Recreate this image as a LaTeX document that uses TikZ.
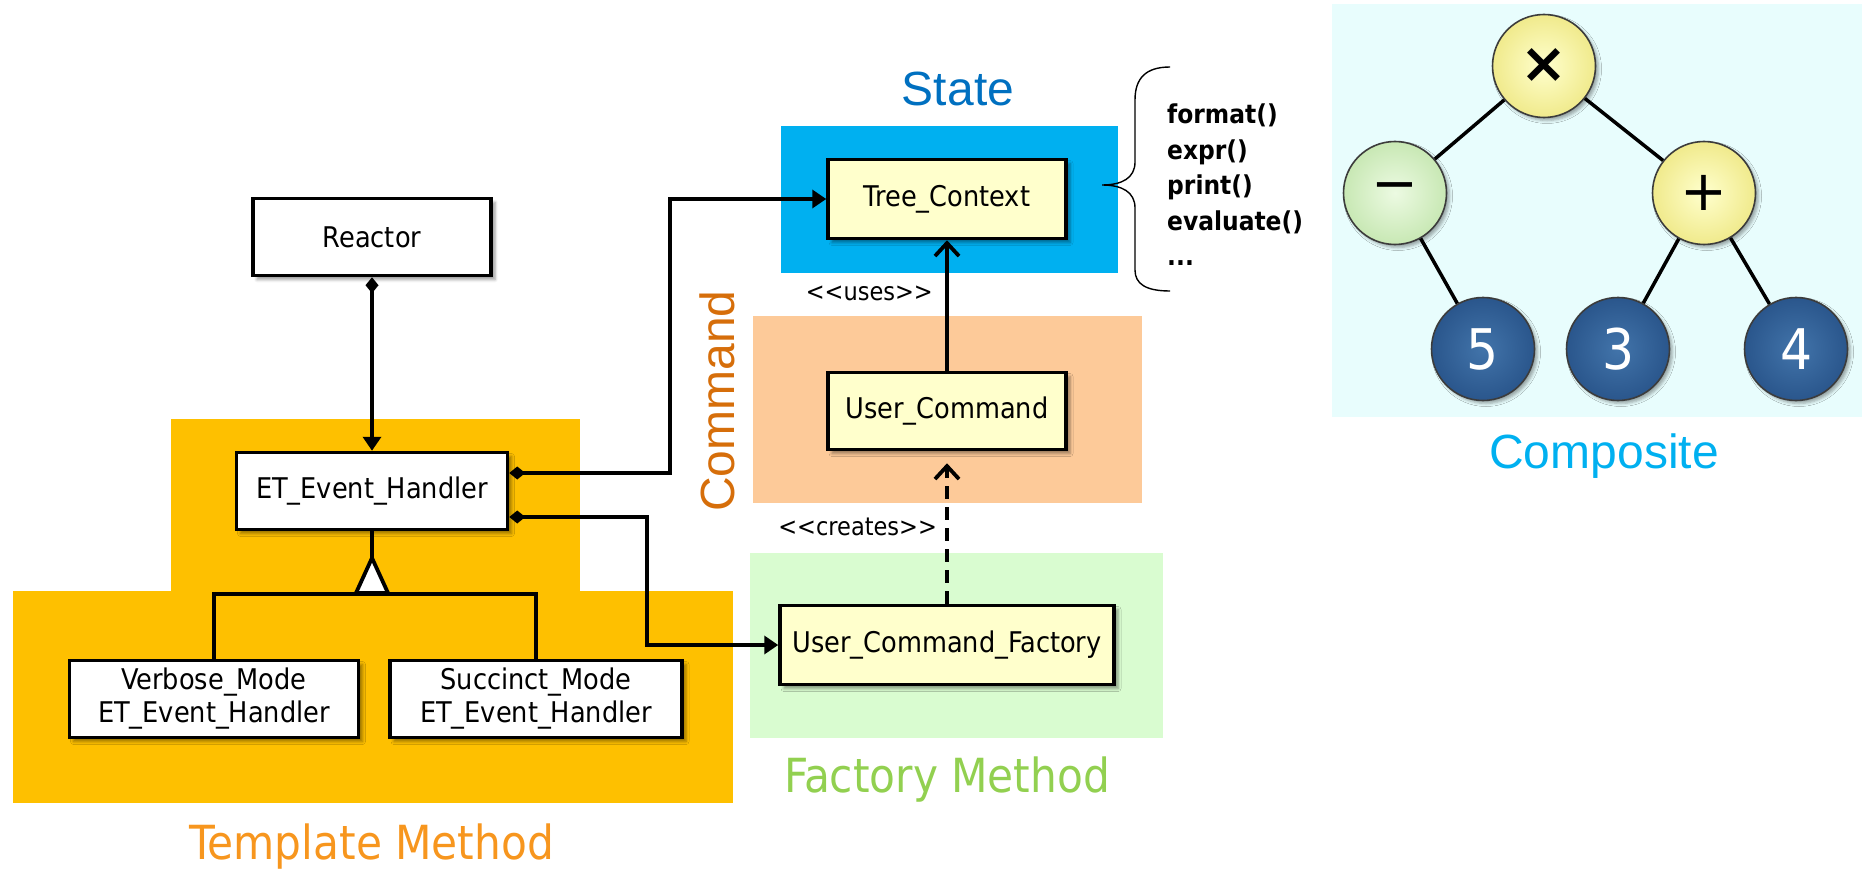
\documentclass[tikz,border=0pt]{standalone}
\usepackage{fontspec}
\setmainfont{DejaVu Sans Condensed}
\newfontfamily\arialfont{Liberation Sans}
\newfontfamily\signfont{DejaVu Sans}
\usepackage{xcolor}
\usepackage{tikz}
\usetikzlibrary{positioning}
\usetikzlibrary{calc,arrows.meta}
\usetikzlibrary{shadows.blur}

\definecolor{templatebg}{RGB}{254,192,0}
\definecolor{templatefg}{RGB}{247,150,30}
\definecolor{statebg}{RGB}{0,176,240}
\definecolor{statefg}{RGB}{0,112,192}
\definecolor{commandbg}{RGB}{253,202,153}
\definecolor{commandfg}{RGB}{214,110,10}
\definecolor{factorybg}{RGB}{217,252,208}
\definecolor{factoryfg}{RGB}{146,208,80}
\definecolor{compositebg}{RGB}{232,253,253}
\definecolor{compositefg}{RGB}{0,176,240}
\definecolor{classfill}{RGB}{255,255,204}

\begin{document}
\begin{tikzpicture}[x=1pt,y=-1pt,
  class/.style={draw, line width=3.5pt, fill=white, minimum height=77pt,
    inner sep=0pt, align=center, font=\fontsize{28.5}{33}\selectfont,
    blur shadow={shadow xshift=4pt, shadow yshift=-4pt, shadow blur radius=3pt, shadow opacity=40}},
  patternlabel/.style={inner sep=0pt, font=\fontsize{47}{52}\selectfont},
  arialabel/.style={inner sep=0pt, font=\arialfont\fontsize{48}{52}\selectfont},
  stereo/.style={inner sep=0pt, font=\fontsize{25}{28}\selectfont},
  link/.style={line width=3.8pt},
  owns/.style={link, {Diamond[length=16pt,width=13pt]}-{Triangle[length=14pt,width=18pt]}},
  depends/.style={link, -{Straight Barb[length=13pt,width=24pt]}},
  treenode/.style={circle, minimum size=103pt, draw={rgb,255:red,60;green,60;blue,60}, line width=1.6pt,
    shading=radial, inner sep=0pt,
    blur shadow={shadow xshift=3pt, shadow yshift=-3pt, shadow blur radius=3pt, shadow opacity=35}},
  opnode/.style={treenode, inner color={rgb,255:red,255;green,255;blue,205}, outer color={rgb,255:red,240;green,234;blue,140},
    font=\signfont\fontsize{56}{56}\selectfont},
  leafnode/.style={treenode, inner color={rgb,255:red,66;green,116;blue,170}, outer color={rgb,255:red,42;green,86;blue,140},
    text=white, font=\fontsize{56}{56}\selectfont},
  treeedge/.style={line width=3.5pt}
]

\useasboundingbox (0,0) rectangle (1862,869);

% Pattern areas
\fill[templatebg] (171,419) rectangle (580,591);
\fill[templatebg] (13,591) rectangle (733,803);
\fill[statebg] (781,126) rectangle (1118,273);
\fill[commandbg] (753,316) rectangle (1142,503);
\fill[factorybg] (750,553) rectangle (1163,738);
\fill[compositebg] (1332,4) rectangle (1862,417);

% Pattern names
\node[patternlabel, text=templatefg, anchor=base] (templatelbl) at (372,859) {Template Method};
\node[patternlabel, text=factoryfg, anchor=base] (factorylbl) at (947,792) {Factory Method};
\node[arialabel, text=statefg, anchor=base] (statelbl) at (958,106) {State};
\node[arialabel, text=commandfg, rotate=90, anchor=base] (commandlbl) at (734,401) {Command};
\node[arialabel, text=compositefg, anchor=base] (compositelbl) at (1604,468) {Composite};

% Classes
\node[class, minimum width=238pt] (reactor) at (372,237) {Reactor};
\node[class, minimum width=271pt] (handler) at (372,491) {ET\_Event\_Handler};
\node[class, minimum width=289pt] (verbose) at (214,699) {Verbose\_Mode\\ET\_Event\_Handler};
\node[class, minimum width=292pt] (succinct) at (536,699) {Succinct\_Mode\\ET\_Event\_Handler};
\node[class, fill=classfill, minimum width=238pt, minimum height=79pt] (context) at (947,199) {Tree\_Context};
\node[class, fill=classfill, minimum width=238pt] (command) at (947,411) {User\_Command};
\node[class, fill=classfill, minimum width=334pt, minimum height=79pt] (factory) at (947,645) {User\_Command\_Factory};

% Composition links
\coordinate (bendctx) at (670,199);
\coordinate (bendfac) at (647,645);
\draw[owns] (reactor.south) -- (handler.north);
\draw[owns] ([yshift=18pt]handler.east) -| (bendctx) -- (context.west);
\draw[owns] ([yshift=-26pt]handler.east) -| (bendfac) -- (factory.west);

% Inheritance
\coordinate (genapex) at (372,558);
\coordinate (genbar) at (372,594);
\draw[link] (handler.south) -- (genapex);
\draw[link] (verbose.north) |- (genbar) -| (succinct.north);
\draw[link, fill=white, line join=miter] (genapex) -- ++(-16,35) -- ++(32,0) -- cycle;

% Dependencies
\draw[depends] (command.north) -- (context.south);
\draw[depends, dash pattern=on 13pt off 8pt, shorten >=12pt] (factory.north) -- (command.south);
\node[stereo, anchor=east] (useslbl) at (933,293) {<{}<uses>{}>};
\node[stereo, anchor=east] (createslbl) at (937,527) {<{}<creates>{}>};

% Operations of the context
\draw[line width=1.4pt] (1170,67) .. controls (1146,67) and (1135,78) .. (1135,100)
  -- (1135,162) .. controls (1135,178) and (1122,185) .. (1102,185)
  .. controls (1122,185) and (1135,192) .. (1135,208)
  -- (1135,270) .. controls (1135,284) and (1146,291) .. (1170,291);
\node[anchor=north west, align=left, inner sep=0pt, font=\bfseries\fontsize{26}{35.5}\selectfont] (ops)
  at (1167,104) {format()\\expr()\\print()\\evaluate()\\...};

% Expression tree
\node[opnode] (times) at (1544,66) {\bfseries ×};
\node[opnode, inner color={rgb,255:red,236;green,250;blue,226}, outer color={rgb,255:red,200;green,232;blue,180}] (minus) at (1395,193) {−};
\node[opnode] (plus) at (1704,193) {+};
\node[leafnode] (five) at (1483,349) {5};
\node[leafnode] (three) at (1618,349) {3};
\node[leafnode] (four) at (1796,349) {4};
\draw[treeedge] (times) -- (minus);
\draw[treeedge] (times) -- (plus);
\draw[treeedge] (minus) -- (five);
\draw[treeedge] (plus) -- (three);
\draw[treeedge] (plus) -- (four);

\end{tikzpicture}
\end{document}
